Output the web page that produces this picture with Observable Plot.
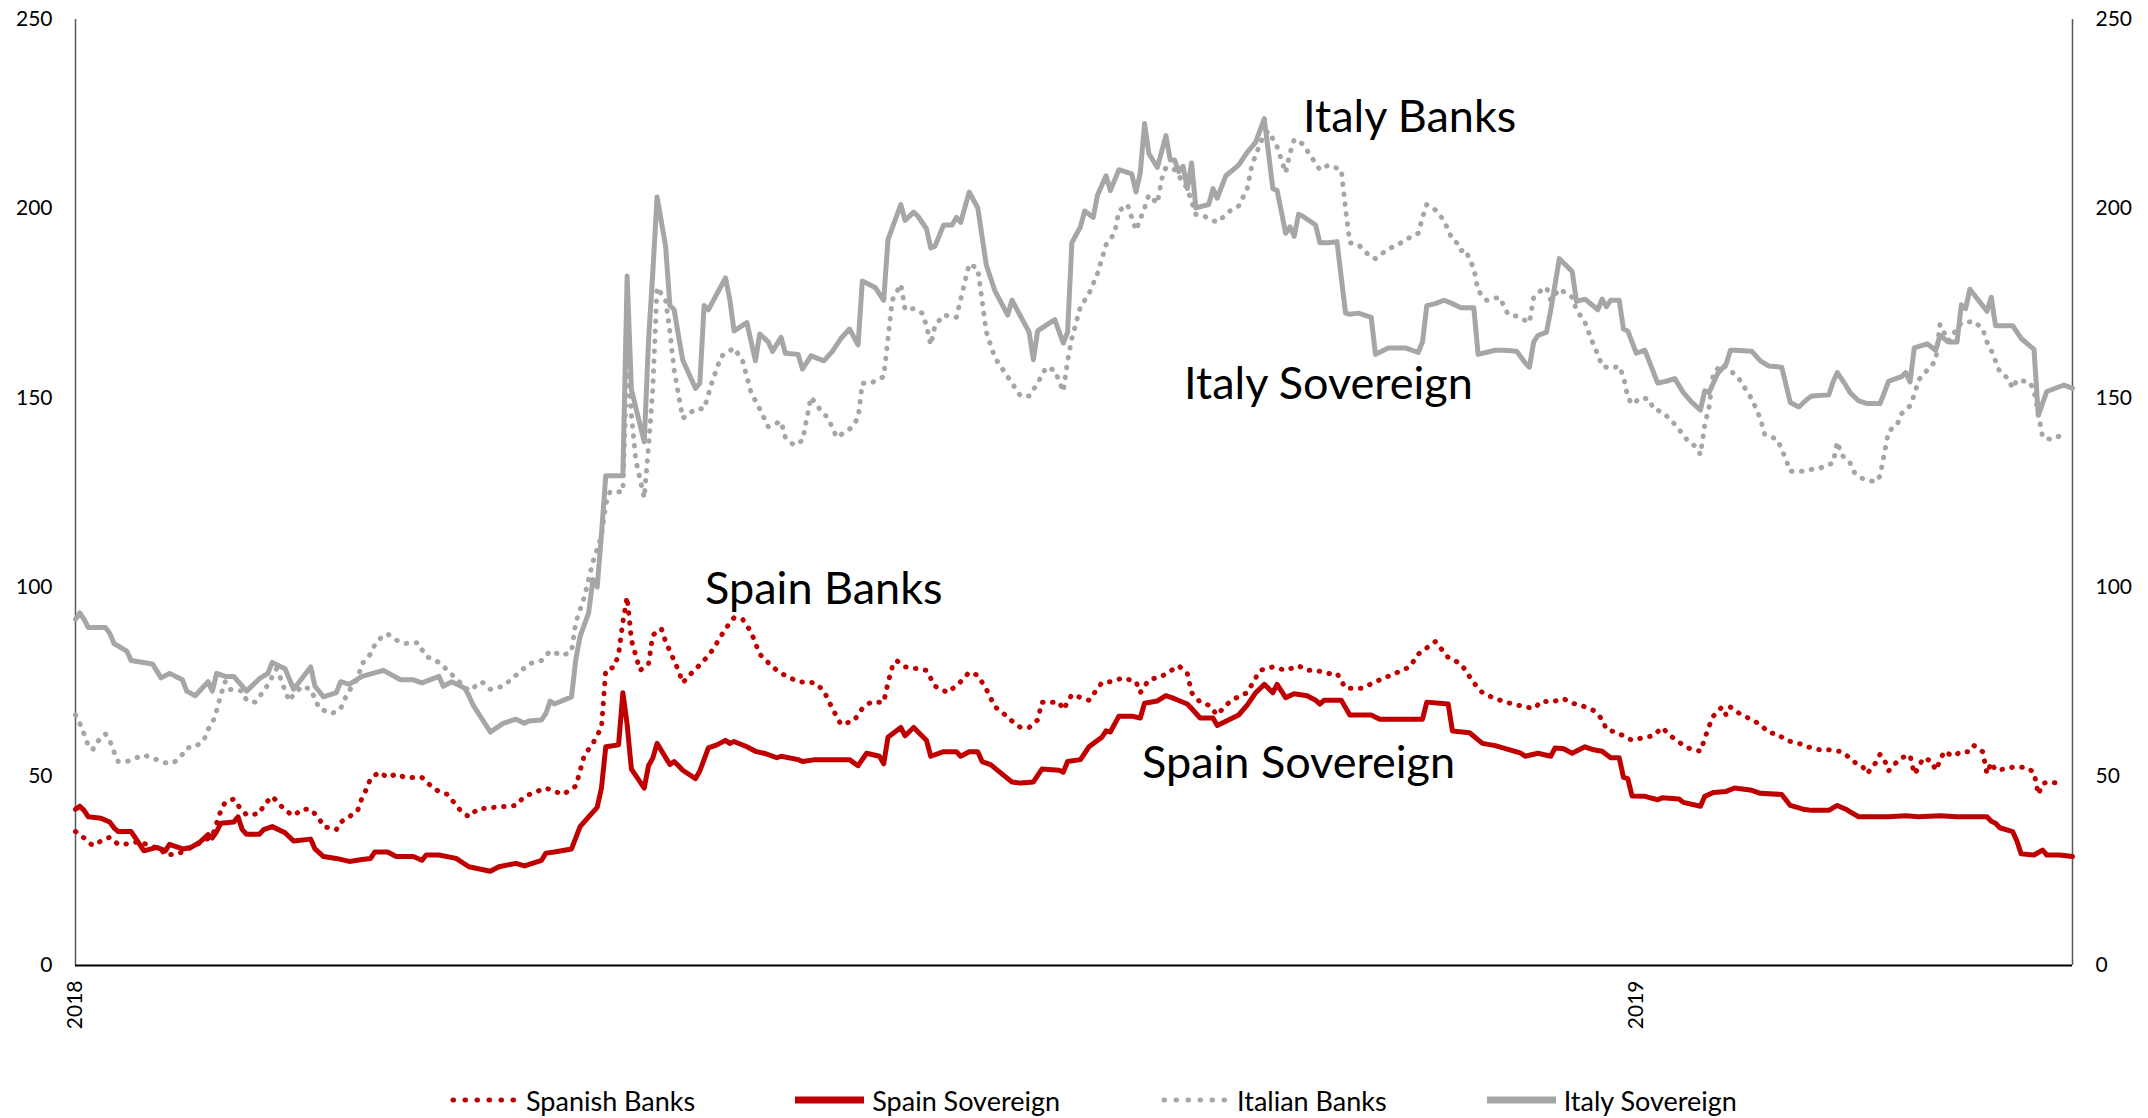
<!DOCTYPE html>
<html><head><meta charset="utf-8">
<script src="https://cdn.jsdelivr.net/npm/d3@7"></script>
<script src="https://cdn.jsdelivr.net/npm/@observablehq/plot@0.6"></script>
<style>
html,body{margin:0;padding:0;background:#fff;}
#wrap{position:relative;width:2148px;height:1118px;overflow:hidden;}
#legend{position:absolute;left:449px;top:1080px;height:40px;display:flex;gap:100px;align-items:center;font-family:Lato,sans-serif;font-size:27px;color:#000;white-space:nowrap;}
.item{display:flex;align-items:center;gap:8px;}
</style></head>
<body><div id="wrap"><div id="chart"></div><div id="legend"></div></div>
<script>
// ---- data ----
const seriesNames = ["Spanish Banks", "Spain Sovereign", "Italian Banks", "Italy Sovereign"];
const seriesColors = ["#C00000", "#C00000", "#A6A6A6", "#A6A6A6"];
const seriesDotted = [true, false, true, false];

const spanishBanks = [
["2018-01-01",35.4],["2018-01-03",33.7],["2018-01-05",31.7],["2018-01-07",32.9],["2018-01-09",33.9],["2018-01-11",32.0],["2018-01-14",32.2],["2018-01-16",32.9],["2018-01-18",31.7],["2018-01-21",30.8],["2018-01-22",29.2],["2018-01-25",29.5],["2018-01-31",32.9],
["2018-02-02",34.2],["2018-02-04",41.0],["2018-02-05",43.1],["2018-02-07",44.0],["2018-02-08",42.3],["2018-02-10",39.8],["2018-02-13",40.1],["2018-02-14",42.3],["2018-02-16",44.7],["2018-02-17",43.5],["2018-02-19",41.0],["2018-02-21",39.6],["2018-02-23",41.3],["2018-02-25",41.3],["2018-02-27",38.8],["2018-02-28",36.7],
["2018-03-03",35.9],["2018-03-04",37.9],["2018-03-06",39.3],["2018-03-08",41.0],["2018-03-09",44.3],["2018-03-10",46.5],["2018-03-11",49.4],["2018-03-13",51.1],["2018-03-15",49.7],["2018-03-17",50.6],["2018-03-19",49.7],["2018-03-23",49.7],["2018-03-26",46.5],["2018-03-29",45.2],
["2018-04-01",41.0],["2018-04-03",39.3],["2018-04-05",41.3],["2018-04-09",41.8],["2018-04-14",42.3],["2018-04-16",44.7],["2018-04-21",46.9],["2018-04-25",45.2],["2018-04-28",47.4],["2018-04-30",55.6],
["2018-05-02",58.7],["2018-05-04",62.9],["2018-05-05",78.0],["2018-05-07",78.9],["2018-05-08",82.3],["2018-05-09",90.7],["2018-05-10",97.4],["2018-05-11",86.0],["2018-05-13",78.0],["2018-05-15",79.7],["2018-05-16",87.3],["2018-05-18",89.0],["2018-05-19",85.6],["2018-05-22",78.0],["2018-05-23",74.7],["2018-05-25",77.2],["2018-05-28",80.6],["2018-05-30",83.4],
["2018-06-02",89.0],["2018-06-04",91.9],["2018-06-06",91.5],["2018-06-08",88.1],["2018-06-10",82.3],["2018-06-13",78.9],["2018-06-15",77.2],["2018-06-19",75.0],["2018-06-23",74.7],["2018-06-25",72.6],["2018-06-27",67.9],["2018-06-29",63.7],
["2018-07-02",64.6],["2018-07-04",67.9],["2018-07-06",69.6],["2018-07-09",69.6],["2018-07-10",74.7],["2018-07-11",78.9],["2018-07-12",80.6],["2018-07-14",78.9],["2018-07-17",78.4],["2018-07-19",78.0],["2018-07-21",73.8],["2018-07-24",72.1],["2018-07-27",75.0],["2018-07-29",77.5],["2018-07-31",76.7],
["2018-08-02",73.0],["2018-08-04",68.4],["2018-08-06",66.6],["2018-08-08",64.6],["2018-08-10",62.9],["2018-08-12",62.9],["2018-08-14",64.9],["2018-08-15",69.6],["2018-08-19",69.6],["2018-08-20",67.6],["2018-08-22",71.6],["2018-08-26",70.1],["2018-08-29",74.7],["2018-08-31",75.0],
["2018-09-03",76.0],["2018-09-06",75.0],["2018-09-07",72.1],["2018-09-09",75.5],["2018-09-12",76.4],["2018-09-16",79.2],["2018-09-18",77.2],["2018-09-19",72.1],["2018-09-21",69.6],["2018-09-23",68.8],["2018-09-25",66.2],["2018-09-27",68.8],["2018-09-29",70.5],
["2018-10-02",72.1],["2018-10-05",78.0],["2018-10-08",78.9],["2018-10-11",78.0],["2018-10-14",79.2],["2018-10-16",78.0],["2018-10-18",78.0],["2018-10-21",77.2],["2018-10-23",77.2],["2018-10-25",73.3],["2018-10-29",73.3],
["2018-11-01",75.0],["2018-11-05",76.9],["2018-11-09",78.9],["2018-11-11",82.3],["2018-11-15",85.6],["2018-11-18",81.4],["2018-11-21",79.7],["2018-11-24",74.7],["2018-11-26",72.1],["2018-11-29",70.5],
["2018-12-03",69.1],["2018-12-08",67.9],["2018-12-10",69.9],["2018-12-12",69.6],["2018-12-15",70.5],["2018-12-17",69.3],["2018-12-19",68.8],["2018-12-22",67.4],["2018-12-24",65.1],["2018-12-25",62.4],["2018-12-27",61.7],["2018-12-29",60.7],["2018-12-31",59.5],
["2019-01-03",60.3],["2019-01-05",60.7],["2019-01-07",62.9],["2019-01-09",60.7],["2019-01-11",59.0],["2019-01-13",57.5],["2019-01-16",56.6],["2019-01-17",60.0],["2019-01-18",63.2],["2019-01-19",65.9],["2019-01-21",68.3],["2019-01-22",66.2],["2019-01-23",68.3],["2019-01-25",66.7],["2019-01-28",64.9],["2019-01-30",63.7],
["2019-02-01",61.5],["2019-02-03",61.2],["2019-02-05",59.5],["2019-02-08",58.7],["2019-02-10",57.8],["2019-02-13",57.0],["2019-02-15",57.0],["2019-02-18",56.5],["2019-02-20",54.8],["2019-02-22",52.8],["2019-02-23",52.4],["2019-02-24",50.7],["2019-02-26",53.6],["2019-02-27",55.8],["2019-02-28",54.4],
["2019-03-01",51.4],["2019-03-02",52.8],["2019-03-04",54.9],["2019-03-06",55.6],["2019-03-07",50.6],["2019-03-08",52.2],["2019-03-09",54.8],["2019-03-11",54.1],["2019-03-12",51.6],["2019-03-13",54.1],["2019-03-14",56.6],["2019-03-16",55.3],["2019-03-18",56.5],["2019-03-20",56.5],["2019-03-21",58.1],["2019-03-23",56.5],["2019-03-24",50.7],["2019-03-25",53.6],["2019-03-26",51.6],["2019-03-28",51.9],["2019-03-30",52.4],
["2019-04-02",52.4],["2019-04-04",51.1],["2019-04-05",45.2],["2019-04-06",48.0],["2019-04-07",48.5],["2019-04-10",48.2]
];

const spainSovereign = [
["2018-01-01",41.3],["2018-01-02",42.1],["2018-01-03",41.0],["2018-01-04",39.3],["2018-01-07",38.9],["2018-01-08",38.4],["2018-01-09",37.9],["2018-01-10",36.4],["2018-01-11",35.4],["2018-01-14",35.4],["2018-01-15",33.7],["2018-01-17",30.3],["2018-01-20",31.2],["2018-01-22",30.3],["2018-01-23",32.0],["2018-01-26",30.8],["2018-01-28",31.2],["2018-01-30",32.5],
["2018-02-01",34.6],["2018-02-02",33.7],["2018-02-03",35.4],["2018-02-04",37.6],["2018-02-07",37.9],["2018-02-08",39.3],["2018-02-09",35.9],["2018-02-10",34.7],["2018-02-13",34.7],["2018-02-14",35.9],["2018-02-16",36.7],["2018-02-19",35.1],["2018-02-21",32.9],["2018-02-25",33.4],["2018-02-26",30.8],["2018-02-28",28.8],
["2018-03-03",28.3],["2018-03-06",27.5],["2018-03-09",28.0],["2018-03-11",28.3],["2018-03-12",30.0],["2018-03-15",30.0],["2018-03-17",28.8],["2018-03-21",28.8],["2018-03-23",27.8],["2018-03-24",29.2],["2018-03-27",29.2],["2018-03-31",28.3],
["2018-04-03",26.1],["2018-04-08",24.9],["2018-04-10",26.1],["2018-04-14",27.0],["2018-04-16",26.3],["2018-04-20",27.8],["2018-04-21",29.7],["2018-04-23",30.0],["2018-04-27",30.8],["2018-04-29",36.7],
["2018-05-01",39.3],["2018-05-03",41.8],["2018-05-04",46.9],["2018-05-05",57.8],["2018-05-08",58.3],["2018-05-09",72.1],["2018-05-10",63.7],["2018-05-11",51.9],["2018-05-14",46.9],["2018-05-15",52.8],["2018-05-16",54.8],["2018-05-17",58.7],["2018-05-20",53.1],["2018-05-21",53.9],["2018-05-22",52.8],["2018-05-23",51.6],["2018-05-26",49.4],["2018-05-27",51.4],["2018-05-29",57.5],["2018-05-31",58.3],
["2018-06-02",59.5],["2018-06-03",58.7],["2018-06-04",59.2],["2018-06-07",57.8],["2018-06-09",56.6],["2018-06-11",56.1],["2018-06-14",54.9],["2018-06-15",55.3],["2018-06-19",54.4],["2018-06-20",53.9],["2018-06-23",54.4],
["2018-07-01",54.4],["2018-07-03",52.8],["2018-07-05",56.1],["2018-07-08",55.3],["2018-07-09",53.3],["2018-07-10",60.3],["2018-07-13",62.9],["2018-07-14",60.7],["2018-07-16",62.9],["2018-07-19",59.5],["2018-07-20",55.3],["2018-07-23",56.5],["2018-07-26",56.5],["2018-07-27",55.3],["2018-07-29",56.5],["2018-07-31",56.5],
["2018-08-01",53.9],["2018-08-03",53.1],["2018-08-07",49.4],["2018-08-08",48.5],["2018-08-10",48.2],["2018-08-13",48.5],["2018-08-15",51.9],["2018-08-19",51.6],["2018-08-20",51.1],["2018-08-21",53.9],["2018-08-24",54.4],["2018-08-26",57.8],["2018-08-29",60.3],["2018-08-30",62.0],["2018-08-31",61.7],
["2018-09-02",65.9],["2018-09-05",65.9],["2018-09-07",65.4],["2018-09-08",69.3],["2018-09-11",69.9],["2018-09-13",71.3],["2018-09-15",70.5],["2018-09-18",69.1],["2018-09-19",67.9],["2018-09-21",65.4],["2018-09-24",65.4],["2018-09-25",63.4],["2018-09-30",66.2],
["2018-10-02",68.8],["2018-10-04",72.1],["2018-10-06",74.3],["2018-10-08",72.1],["2018-10-09",74.3],["2018-10-11",70.8],["2018-10-13",71.8],["2018-10-16",71.3],["2018-10-18",70.1],["2018-10-19",69.1],["2018-10-20",70.1],["2018-10-24",70.1],["2018-10-26",66.2],["2018-10-31",66.2],
["2018-11-02",65.1],["2018-11-12",65.1],["2018-11-13",69.6],["2018-11-18",69.1],["2018-11-19",62.0],["2018-11-23",61.5],["2018-11-26",58.7],["2018-11-29",58.1],
["2018-12-05",56.1],["2018-12-06",55.3],["2018-12-09",56.1],["2018-12-12",55.3],["2018-12-13",57.5],["2018-12-15",57.3],["2018-12-17",56.1],["2018-12-20",57.8],["2018-12-22",57.0],["2018-12-24",56.6],["2018-12-26",54.9],["2018-12-28",54.9],["2018-12-29",49.7],["2018-12-30",49.4],["2018-12-31",44.8],
["2019-01-03",44.7],["2019-01-06",43.8],["2019-01-07",44.3],["2019-01-11",44.0],["2019-01-12",43.1],["2019-01-16",42.1],["2019-01-17",44.7],["2019-01-19",45.7],["2019-01-22",46.0],["2019-01-24",46.9],["2019-01-28",46.3],["2019-01-30",45.5],
["2019-02-04",45.2],["2019-02-06",42.3],["2019-02-09",41.3],["2019-02-11",41.0],["2019-02-15",41.0],["2019-02-17",42.3],["2019-02-19",41.3],["2019-02-20",40.6],["2019-02-22",39.3],
["2019-03-01",39.3],["2019-03-05",39.6],["2019-03-08",39.3],["2019-03-13",39.6],["2019-03-17",39.3],["2019-03-24",39.3],["2019-03-25",38.1],["2019-03-26",37.6],["2019-03-27",36.4],["2019-03-30",35.4],["2019-03-31",32.9],
["2019-04-01",29.5],["2019-04-04",29.2],["2019-04-06",30.5],["2019-04-07",29.2],["2019-04-10",29.2],["2019-04-13",28.8]
];

const italianBanks = [
["2018-01-01",66.2],["2018-01-02",64.0],["2018-01-03",61.2],["2018-01-04",58.1],["2018-01-05",57.0],["2018-01-06",59.0],["2018-01-08",61.2],["2018-01-09",59.5],["2018-01-10",56.5],["2018-01-11",53.9],["2018-01-13",53.9],["2018-01-15",54.8],["2018-01-17",55.6],["2018-01-19",54.8],["2018-01-22",53.6],["2018-01-24",53.6],["2018-01-26",55.8],["2018-01-27",57.5],["2018-01-29",57.8],["2018-01-31",59.5],
["2018-02-01",62.4],["2018-02-02",64.0],["2018-02-03",67.4],["2018-02-04",71.6],["2018-02-05",75.0],["2018-02-06",73.0],["2018-02-09",72.5],["2018-02-10",70.1],["2018-02-12",69.6],["2018-02-14",72.5],["2018-02-15",74.2],["2018-02-17",78.4],["2018-02-18",75.8],["2018-02-19",72.6],["2018-02-20",69.9],["2018-02-21",71.6],["2018-02-23",73.8],["2018-02-25",73.0],["2018-02-26",70.5],["2018-02-27",67.9],
["2018-03-02",66.6],["2018-03-04",67.9],["2018-03-05",70.5],["2018-03-06",72.6],["2018-03-08",76.0],["2018-03-09",79.7],["2018-03-11",82.3],["2018-03-12",84.8],["2018-03-14",87.3],["2018-03-15",87.6],["2018-03-17",86.0],["2018-03-19",85.1],["2018-03-22",85.3],["2018-03-24",81.7],["2018-03-27",80.1],["2018-03-29",78.0],
["2018-04-01",74.7],["2018-04-03",72.6],["2018-04-06",75.0],["2018-04-08",73.0],["2018-04-11",73.8],["2018-04-14",76.7],["2018-04-17",79.7],["2018-04-20",80.6],["2018-04-22",83.1],["2018-04-25",81.9],["2018-04-27",83.1],["2018-04-28",90.7],["2018-04-30",97.4],
["2018-05-02",106.7],["2018-05-04",113.4],["2018-05-05",121.9],["2018-05-06",125.2],["2018-05-09",125.2],["2018-05-10",159.8],["2018-05-11",145.5],["2018-05-12",133.7],["2018-05-14",123.6],["2018-05-15",137.1],["2018-05-16",152.2],["2018-05-17",179.2],["2018-05-19",175.8],["2018-05-20",167.4],["2018-05-21",157.3],["2018-05-23",144.6],["2018-05-26",147.1],["2018-05-28",147.1],["2018-05-30",154.7],
["2018-06-01",161.0],["2018-06-04",163.2],["2018-06-06",159.8],["2018-06-08",151.4],["2018-06-10",147.1],["2018-06-12",142.4],["2018-06-15",143.8],["2018-06-16",139.6],["2018-06-18",137.5],["2018-06-20",138.7],["2018-06-22",150.2],["2018-06-24",147.1],["2018-06-26",144.6],["2018-06-28",139.6],
["2018-07-01",141.7],["2018-07-03",144.6],["2018-07-04",153.9],["2018-07-06",153.9],["2018-07-09",155.6],["2018-07-10",165.7],["2018-07-11",175.8],["2018-07-13",180.0],["2018-07-14",173.3],["2018-07-16",173.6],["2018-07-18",172.4],["2018-07-19",169.1],["2018-07-20",164.0],["2018-07-21",169.1],["2018-07-23",171.9],["2018-07-26",171.3],["2018-07-27",176.1],["2018-07-29",185.4],["2018-07-31",184.2],
["2018-08-01",175.8],["2018-08-02",167.4],["2018-08-04",160.6],["2018-08-07",155.6],["2018-08-10",150.5],["2018-08-12",150.5],["2018-08-14",153.9],["2018-08-16",158.1],["2018-08-18",157.3],["2018-08-20",151.7],["2018-08-21",159.8],["2018-08-22",165.7],["2018-08-24",174.1],["2018-08-26",177.5],["2018-08-28",182.9],["2018-08-30",190.5],
["2018-09-01",193.5],["2018-09-02",199.4],["2018-09-04",201.1],["2018-09-06",194.3],["2018-09-08",200.2],["2018-09-09",203.6],["2018-09-11",201.4],["2018-09-12",207.8],["2018-09-13",210.9],["2018-09-15",210.3],["2018-09-16",208.7],["2018-09-18",205.3],["2018-09-20",198.5],["2018-09-22",198.0],["2018-09-24",196.9],["2018-09-25",196.4],["2018-09-28",199.4],["2018-09-30",200.7],
["2018-10-02",205.3],["2018-10-03",210.9],["2018-10-04",214.3],["2018-10-06",219.7],["2018-10-07",220.5],["2018-10-09",216.3],["2018-10-10",212.9],["2018-10-11",209.5],["2018-10-12",214.6],["2018-10-13",218.3],["2018-10-15",217.1],["2018-10-17",213.7],["2018-10-19",210.3],["2018-10-21",211.5],["2018-10-24",210.3],["2018-10-25",200.0],["2018-10-26",191.0],["2018-10-28",190.5],["2018-10-31",187.1],
["2018-11-01",186.8],["2018-11-04",189.4],["2018-11-06",190.3],["2018-11-08",191.8],["2018-11-11",193.5],["2018-11-12",197.7],["2018-11-13",201.1],["2018-11-15",199.7],["2018-11-17",196.9],["2018-11-19",191.8],["2018-11-20",191.0],["2018-11-21",188.9],["2018-11-22",189.2],["2018-11-24",184.2],["2018-11-25",178.3],["2018-11-27",175.8],["2018-11-30",176.6],
["2018-12-02",172.1],["2018-12-04",171.6],["2018-12-07",169.9],["2018-12-08",176.6],["2018-12-10",178.7],["2018-12-11",179.2],["2018-12-12",175.8],["2018-12-14",178.8],["2018-12-17",176.6],["2018-12-18",173.3],["2018-12-20",169.9],["2018-12-22",164.0],["2018-12-23",161.5],["2018-12-24",158.4],["2018-12-26",157.8],["2018-12-28",158.4],["2018-12-29",155.6],["2018-12-30",150.2],["2018-12-31",148.3],
["2019-01-02",150.0],["2019-01-04",149.7],["2019-01-05",147.1],["2019-01-07",146.3],["2019-01-09",144.3],["2019-01-11",141.6],["2019-01-13",138.7],["2019-01-15",137.0],["2019-01-16",135.0],["2019-01-17",142.9],["2019-01-18",147.5],["2019-01-19",156.4],["2019-01-21",158.9],["2019-01-23",157.3],["2019-01-25",155.1],["2019-01-28",149.7],["2019-01-30",144.6],["2019-01-31",140.4],
["2019-02-03",139.0],["2019-02-05",133.7],["2019-02-06",130.6],["2019-02-09",130.6],["2019-02-11",131.1],["2019-02-13",131.5],["2019-02-16",132.8],["2019-02-17",138.4],["2019-02-18",135.0],["2019-02-20",132.8],["2019-02-21",130.3],["2019-02-23",128.6],["2019-02-26",127.8],["2019-02-27",129.4],["2019-02-28",135.3],
["2019-03-01",141.2],["2019-03-03",142.9],["2019-03-04",145.8],["2019-03-06",147.9],["2019-03-07",150.8],["2019-03-08",154.7],["2019-03-10",157.3],["2019-03-12",159.8],["2019-03-13",169.4],["2019-03-15",165.0],["2019-03-18",169.9],["2019-03-21",170.2],["2019-03-23",168.2],["2019-03-24",164.8],["2019-03-25",162.6],["2019-03-26",159.8],["2019-03-27",156.9],["2019-03-29",155.1],["2019-03-30",152.5],["2019-03-31",154.7],
["2019-04-03",154.2],["2019-04-04",151.9],["2019-04-05",145.8],["2019-04-06",139.6],["2019-04-08",139.0],["2019-04-11",140.4]
];

const italySovereign = [
["2018-01-01",91.5],["2018-01-02",93.2],["2018-01-03",91.5],["2018-01-04",89.3],["2018-01-08",89.3],["2018-01-09",87.8],["2018-01-10",85.1],["2018-01-13",83.1],["2018-01-14",80.6],["2018-01-19",79.7],["2018-01-21",76.0],["2018-01-23",77.2],["2018-01-26",75.5],["2018-01-27",72.5],["2018-01-29",71.3],
["2018-02-01",75.0],["2018-02-02",72.5],["2018-02-03",77.2],["2018-02-05",76.4],["2018-02-07",76.4],["2018-02-10",72.5],["2018-02-13",75.8],["2018-02-15",77.2],["2018-02-16",80.1],["2018-02-19",78.4],["2018-02-21",73.0],["2018-02-25",78.9],["2018-02-26",73.8],["2018-02-28",71.0],
["2018-03-03",72.1],["2018-03-04",75.0],["2018-03-06",74.3],["2018-03-09",76.4],["2018-03-14",78.0],["2018-03-18",75.5],["2018-03-21",75.5],["2018-03-23",74.7],["2018-03-27",76.4],["2018-03-28",73.8],["2018-03-30",75.0],
["2018-04-02",73.3],["2018-04-03",71.3],["2018-04-04",68.8],["2018-04-08",61.7],["2018-04-10",63.2],["2018-04-11",64.0],["2018-04-14",65.1],["2018-04-16",64.0],["2018-04-17",64.6],["2018-04-20",64.9],["2018-04-21",66.6],["2018-04-22",69.9],["2018-04-23",69.1],["2018-04-27",71.0],["2018-04-28",80.9],["2018-04-29",87.0],
["2018-05-01",93.2],["2018-05-02",102.0],["2018-05-03",100.0],["2018-05-04",114.0],["2018-05-05",129.4],["2018-05-09",129.4],["2018-05-10",182.2],["2018-05-11",152.2],["2018-05-14",138.4],["2018-05-15",165.0],["2018-05-16",183.2],["2018-05-17",203.1],["2018-05-19",190.1],["2018-05-20",174.4],["2018-05-21",173.3],["2018-05-22",166.5],["2018-05-23",160.0],["2018-05-26",152.5],["2018-05-27",153.9],["2018-05-28",174.4],["2018-05-29",173.3],
["2018-06-02",181.7],["2018-06-03",176.1],["2018-06-04",167.7],["2018-06-07",169.9],["2018-06-09",159.8],["2018-06-10",166.9],["2018-06-12",164.8],["2018-06-13",162.3],["2018-06-15",166.0],["2018-06-16",161.8],["2018-06-19",161.5],["2018-06-20",157.6],["2018-06-22",161.1],["2018-06-25",159.8],["2018-06-27",162.3],["2018-06-29",165.7],
["2018-07-01",168.2],["2018-07-03",164.0],["2018-07-04",180.9],["2018-07-07",179.2],["2018-07-09",175.8],["2018-07-10",191.8],["2018-07-13",201.1],["2018-07-14",196.9],["2018-07-16",199.1],["2018-07-17",198.0],["2018-07-19",194.7],["2018-07-20",189.6],["2018-07-21",190.1],["2018-07-23",195.7],["2018-07-25",195.7],["2018-07-26",197.7],["2018-07-27",196.4],["2018-07-29",204.4],["2018-07-31",200.2],
["2018-08-02",185.1],["2018-08-04",178.3],["2018-08-07",171.9],["2018-08-08",175.8],["2018-08-12",167.4],["2018-08-13",160.1],["2018-08-14",167.7],["2018-08-18",170.7],["2018-08-20",164.5],["2018-08-21",167.4],["2018-08-22",191.0],["2018-08-24",195.2],["2018-08-25",199.4],["2018-08-27",197.7],["2018-08-28",203.6],["2018-08-30",208.7],["2018-08-31",204.8],
["2018-09-02",210.3],["2018-09-05",209.2],["2018-09-06",204.4],["2018-09-07",209.5],["2018-09-08",222.5],["2018-09-09",214.6],["2018-09-11",210.9],["2018-09-13",219.3],["2018-09-14",212.9],["2018-09-15",212.9],["2018-09-16",209.8],["2018-09-17",211.2],["2018-09-18",205.3],["2018-09-19",212.1],["2018-09-20",200.2],["2018-09-23",201.1],["2018-09-24",205.3],["2018-09-25",202.8],["2018-09-27",208.7],["2018-09-30",211.5],
["2018-10-02",214.9],["2018-10-04",217.6],["2018-10-06",223.8],["2018-10-07",214.6],["2018-10-08",205.3],["2018-10-09",204.8],["2018-10-11",193.5],["2018-10-12",195.2],["2018-10-13",192.7],["2018-10-14",198.5],["2018-10-15",198.0],["2018-10-18",195.7],["2018-10-19",191.0],["2018-10-21",191.0],["2018-10-23",191.3],["2018-10-25",172.4],["2018-10-26",172.1],["2018-10-28",172.4],["2018-10-31",171.3],
["2018-11-01",161.5],["2018-11-04",163.2],["2018-11-08",163.2],["2018-11-11",162.0],["2018-11-12",164.8],["2018-11-13",174.4],["2018-11-15",174.9],["2018-11-17",175.8],["2018-11-19",174.9],["2018-11-21",173.8],["2018-11-24",173.8],["2018-11-25",161.5],["2018-11-29",162.6],
["2018-12-01",162.6],["2018-12-04",162.3],["2018-12-06",159.3],["2018-12-07",158.1],["2018-12-08",164.8],["2018-12-09",166.5],["2018-12-11",167.4],["2018-12-12",173.3],["2018-12-14",186.8],["2018-12-17",183.4],["2018-12-18",175.5],["2018-12-20",176.1],["2018-12-23",173.3],["2018-12-24",176.1],["2018-12-25",174.1],["2018-12-26",175.8],["2018-12-28",175.8],["2018-12-29",168.2],["2018-12-30",167.7],
["2019-01-01",161.8],["2019-01-03",162.6],["2019-01-06",153.9],["2019-01-08",154.4],["2019-01-10",155.1],["2019-01-12",151.4],["2019-01-14",148.8],["2019-01-16",146.8],["2019-01-17",151.9],["2019-01-18",151.4],["2019-01-19",153.9],["2019-01-20",156.4],["2019-01-22",158.9],["2019-01-23",162.6],["2019-01-24",162.6],["2019-01-28",162.3],["2019-01-30",159.8],
["2019-02-01",158.4],["2019-02-04",158.1],["2019-02-06",148.8],["2019-02-08",147.6],["2019-02-10",149.7],["2019-02-11",150.5],["2019-02-15",150.8],["2019-02-16",154.2],["2019-02-17",156.7],["2019-02-19",153.3],["2019-02-20",151.4],["2019-02-22",149.2],["2019-02-24",148.5],["2019-02-27",148.5],
["2019-03-01",154.4],["2019-03-04",155.6],["2019-03-05",156.7],["2019-03-06",154.2],["2019-03-07",163.2],["2019-03-10",164.3],["2019-03-12",162.6],["2019-03-13",166.5],["2019-03-15",164.8],["2019-03-17",164.8],["2019-03-18",174.6],["2019-03-19",173.6],["2019-03-20",178.7],["2019-03-24",172.9],["2019-03-25",176.6],["2019-03-26",169.1],["2019-03-30",169.1],
["2019-04-01",165.7],["2019-04-04",162.8],["2019-04-05",145.4],["2019-04-07",151.7],["2019-04-11",153.4],["2019-04-13",152.5]
];

const xDomain = ["2018-01-01", "2019-04-13"];
const xTicks = ["2018-01-01", "2019-01-01"];
const yDomain = [0, 250];
const yTicks = [0, 50, 100, 150, 200, 250];

const annotationLabels = ["Italy Banks", "Italy Sovereign", "Spain Banks", "Spain Sovereign"];
const annotationDates = ["2018-11-09", "2018-10-21", "2018-06-25", "2018-10-14"];
const annotationValues = [224.1, 153.4, 99.3, 53.3];

// ---- build ----
const parse = d3.utcParse("%Y-%m-%d");
const allSeries = [spanishBanks, spainSovereign, italianBanks, italySovereign];
const tables = allSeries.map((arr, i) => arr.map(([d, v]) => ({series: seriesNames[i], date: parse(d), value: v})));
const annotations = annotationLabels.map((t, i) => ({label: t, date: parse(annotationDates[i]), value: annotationValues[i]}));
const xd = xDomain.map(parse);

const lineMarks = tables.map((rows, i) => Plot.line(rows, {
  x: "date", y: "value",
  stroke: seriesColors[i],
  strokeWidth: seriesDotted[i] ? 5 : 5,
  strokeDasharray: seriesDotted[i] ? "0.5,9.5" : null,
  strokeLinecap: "round",
  strokeLinejoin: "round"
}));

const chart = Plot.plot({
  width: 2148,
  height: 1060,
  marginTop: 19,
  marginBottom: 95,
  marginLeft: 75,
  marginRight: 76,
  style: {fontFamily: "Lato, sans-serif", fontSize: "21px", color: "#000", background: "#fff"},
  x: {type: "utc", domain: xd},
  y: {domain: yDomain},
  marks: [
    Plot.axisY({anchor: "left", ticks: yTicks, tickSize: 0, tickPadding: 23, label: null, fontSize: 21}),
    Plot.axisY({anchor: "right", ticks: yTicks, tickSize: 0, tickPadding: 23, label: null, fontSize: 21}),
    Plot.axisX({ticks: xTicks.map(parse), tickFormat: d3.utcFormat("%Y"), tickRotate: -90, tickSize: 0, tickPadding: 15, label: null, fontSize: 21}),
    Plot.ruleX(xd, {stroke: "#595959", strokeWidth: 1.5}),
    ...lineMarks,
    Plot.ruleY([0], {stroke: "#000", strokeWidth: 2}),
    Plot.text(annotations, {x: "date", y: "value", text: "label", fontSize: 45, fontFamily: "Lato, sans-serif", fill: "#000"})
  ]
});
document.getElementById("chart").appendChild(chart);

// ---- legend below the chart ----
const legend = d3.select("#legend");
seriesNames.forEach((name, i) => {
  const item = legend.append("div").attr("class", "item");
  const svg = item.append("svg").attr("width", 69).attr("height", 12);
  svg.append("line").attr("x1", seriesDotted[i] ? 4 : 0).attr("x2", seriesDotted[i] ? 66 : 69)
    .attr("y1", 6).attr("y2", 6)
    .attr("stroke", seriesColors[i])
    .attr("stroke-width", seriesDotted[i] ? 5 : 7)
    .attr("stroke-linecap", seriesDotted[i] ? "round" : "butt")
    .attr("stroke-dasharray", seriesDotted[i] ? "0.5,11.5" : null);
  item.append("span").text(name);
});
</script>
</body></html>
